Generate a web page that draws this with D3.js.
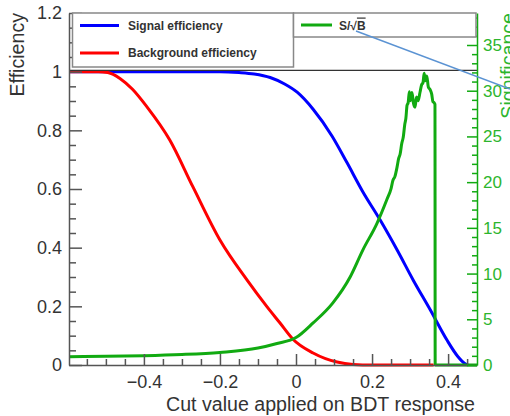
<!DOCTYPE html>
<html>
<head>
<meta charset="utf-8">
<script src="https://cdn.jsdelivr.net/npm/d3@7"></script>
<style>
  html, body { margin: 0; padding: 0; background: #fff; }
  svg { display: block; font-family: "Liberation Sans", Arial, sans-serif; }
</style>
</head>
<body>
<svg id="chart" width="510" height="416"></svg>
<script>
// Cut value on BDT response (x) and efficiencies / significance
const signalEff = [
  [-0.597, 1], [-0.2, 1], [-0.15, 0.997], [-0.11, 0.992], [-0.068, 0.98],
  [-0.03, 0.958], [0.003, 0.93], [0.045, 0.872], [0.095, 0.78], [0.134, 0.69],
  [0.176, 0.59], [0.221, 0.495], [0.266, 0.392], [0.308, 0.29], [0.353, 0.188],
  [0.397, 0.085], [0.425, 0.03], [0.445, 0.004], [0.452, 0]
];
const backgroundEff = [
  [-0.597, 1], [-0.52, 1], [-0.495, 0.997], [-0.463, 0.977], [-0.43, 0.94],
  [-0.392, 0.88], [-0.332, 0.767], [-0.271, 0.607], [-0.2, 0.426], [-0.129, 0.29],
  [-0.076, 0.198], [-0.042, 0.143], [-0.008, 0.088], [0.045, 0.041], [0.108, 0.01],
  [0.15, 0.002], [0.2, 0], [0.362, 0]
];
const significance = [
  [-0.597, 0.9], [-0.5, 0.95], [-0.4, 1.02], [-0.3, 1.15], [-0.2, 1.38],
  [-0.1, 1.85], [-0.05, 2.35], [0, 3.0], [0.045, 4.6], [0.097, 6.8],
  [0.142, 9.6], [0.176, 12.6], [0.213, 15.5], [0.239, 18.1], [0.25, 19.3],
  [0.255, 20.2], [0.26, 20.6], [0.266, 21.7], [0.27, 22.6], [0.274, 23.1],
  [0.278, 24.2], [0.282, 24.9], [0.286, 26.3], [0.289, 27.0], [0.292, 28.4],
  [0.295, 28.7], [0.298, 29.9], [0.301, 28.9], [0.305, 29.8], [0.309, 28.6],
  [0.313, 28.2], [0.317, 29.3], [0.321, 28.9], [0.326, 29.8], [0.33, 30.6],
  [0.334, 30.9], [0.337, 31.9], [0.34, 31.1], [0.344, 31.6], [0.348, 30.4],
  [0.353, 30.1], [0.357, 29.6], [0.36, 28.8], [0.363, 28.7], [0.3655, 28.5],
  [0.366, 0], [0.476, 0]
];

const xMajorTicks = [-0.4, -0.2, 0, 0.2, 0.4];
const effMajorTicks = [0, 0.2, 0.4, 0.6, 0.8, 1, 1.2];
const sigMajorTicks = [0, 5, 10, 15, 20, 25, 30, 35];

const legendLabels = ["Signal efficiency", "Background efficiency"];
const xTitle = "Cut value applied on BDT response";
const yTitle = "Efficiency";
const y2Title = "Significance";

const blue = "#0000ff", red = "#ff0000", green = "#11aa11", axisGrey = "#555", textGrey = "#333";

const svg = d3.select("#chart");
const pL = 69, pR = 477, pT = 13, pB = 365;

const x = d3.scaleLinear().domain([-0.597, 0.476]).range([pL, pR]);
const y = d3.scaleLinear().domain([0, 1.2]).range([pB, pT]);
const y2 = d3.scaleLinear().domain([0, 38.5]).range([pB, pT]);

const stepRange = (a, b, s) => d3.range(Math.round(a / s), Math.round(b / s) + 1).map(i => +(i * s).toFixed(4));
const xMinor = stepRange(-0.55, 0.45, 0.05).filter(v => !xMajorTicks.some(m => Math.abs(m - v) < 1e-6));
const effMinor = stepRange(0, 1.2, 0.05).filter(v => !effMajorTicks.some(m => Math.abs(m - v) < 1e-6));
const sigMinor = stepRange(0, 38, 1).filter(v => v % 5 !== 0);

svg.append("defs").append("clipPath").attr("id", "plot")
  .append("rect").attr("x", pL).attr("y", pT).attr("width", pR - pL).attr("height", pB - pT + 2);

// curves
const lineX = d3.line().curve(d3.curveMonotoneX).x(d => x(d[0])).y(d => y(d[1]));
const lineSig = d3.line().curve(d3.curveMonotoneX).x(d => x(d[0])).y(d => y2(d[1]));
const curves = svg.append("g").attr("clip-path", "url(#plot)");
curves.append("path").datum(signalEff).attr("d", lineX)
  .attr("fill", "none").attr("stroke", blue).attr("stroke-width", 3);
curves.append("path").datum(backgroundEff).attr("d", lineX)
  .attr("fill", "none").attr("stroke", red).attr("stroke-width", 3);
curves.append("path").datum(significance).attr("d", lineSig)
  .attr("fill", "none").attr("stroke", green).attr("stroke-width", 3).attr("stroke-linejoin", "round");

// reference line at efficiency 1
svg.append("line").attr("x1", pL).attr("x2", pR)
  .attr("y1", y(1) - 1.2).attr("y2", y(1) - 1.2)
  .attr("stroke", "#333").attr("stroke-width", 1.3);

// axes
function styleAxis(g, color, fontSize) {
  g.selectAll("path.domain").attr("stroke", color).attr("stroke-width", 1.5);
  g.selectAll(".tick line").attr("stroke", color).attr("stroke-width", 1.5);
  g.selectAll("text").attr("fill", color === green ? "#2db52d" : textGrey)
    .attr("font-size", fontSize).attr("font-family", "Liberation Sans, Arial, sans-serif");
}

const gx = svg.append("g").attr("transform", `translate(0,${pB})`)
  .call(d3.axisBottom(x).tickValues(xMajorTicks).tickSizeInner(-11).tickSizeOuter(0).tickPadding(10)
    .tickFormat(d => d === 0 ? "0" : d3.format(".1f")(d).replace("-", "\u2212")));
styleAxis(gx, axisGrey, 18);
const gxm = svg.append("g").attr("transform", `translate(0,${pB})`)
  .call(d3.axisBottom(x).tickValues(xMinor).tickSizeInner(-6).tickSizeOuter(0).tickFormat(""));
gxm.select("path.domain").remove();
styleAxis(gxm, axisGrey, 18);

const gy = svg.append("g").attr("transform", `translate(${pL},0)`)
  .call(d3.axisLeft(y).tickValues(effMajorTicks).tickSizeInner(-13).tickSizeOuter(0).tickPadding(7)
    .tickFormat(d => d === 0 || d === 1 ? String(d) : d3.format(".1f")(d)));
styleAxis(gy, axisGrey, 18);
const gym = svg.append("g").attr("transform", `translate(${pL},0)`)
  .call(d3.axisLeft(y).tickValues(effMinor).tickSizeInner(-7).tickSizeOuter(0).tickFormat(""));
gym.select("path.domain").remove();
styleAxis(gym, axisGrey, 18);

const gy2 = svg.append("g").attr("transform", `translate(${pR},0)`)
  .call(d3.axisRight(y2).tickValues(sigMajorTicks).tickSizeInner(-10).tickSizeOuter(0).tickPadding(6));
styleAxis(gy2, green, 17);
const gy2m = svg.append("g").attr("transform", `translate(${pR},0)`)
  .call(d3.axisRight(y2).tickValues(sigMinor).tickSizeInner(-5).tickSizeOuter(0).tickFormat(""));
gy2m.select("path.domain").remove();
styleAxis(gy2m, green, 17);

// axis titles
svg.append("text").attr("transform", `translate(${pR - 2},${411})`)
  .attr("text-anchor", "end").attr("font-size", 19.6).attr("fill", textGrey).text(xTitle);
svg.append("text").attr("transform", `translate(24,${pT})rotate(-90)`)
  .attr("text-anchor", "end").attr("font-size", 19.6).attr("fill", textGrey).text(yTitle);
svg.append("text").attr("transform", `translate(515,${pT})rotate(-90)`)
  .attr("text-anchor", "end").attr("font-size", 19.6).attr("fill", "#2db52d").text(y2Title);

// legend boxes
const leg = svg.append("g");
leg.append("rect").attr("x", 72.5).attr("y", 13).attr("width", 221).attr("height", 54)
  .attr("fill", "#fff").attr("stroke", "#888").attr("stroke-width", 1.5);
leg.append("rect").attr("x", 293.5).attr("y", 13).attr("width", 182.5).attr("height", 24)
  .attr("fill", "#fff").attr("stroke", "#888").attr("stroke-width", 1.5);

[[blue, legendLabels[0], 25.5], [red, legendLabels[1], 53]].forEach(([c, t, yy]) => {
  leg.append("line").attr("x1", 80).attr("x2", 119).attr("y1", yy).attr("y2", yy)
    .attr("stroke", c).attr("stroke-width", 3);
  leg.append("text").attr("x", 128).attr("y", yy + 4.2).attr("font-size", 12)
    .attr("font-weight", "bold").attr("fill", textGrey).text(t);
});
leg.append("line").attr("x1", 301).attr("x2", 332).attr("y1", 25).attr("y2", 25)
  .attr("stroke", green).attr("stroke-width", 3);
const sTxt = leg.append("text").attr("x", 339).attr("y", 29.5).attr("font-size", 12)
  .attr("font-weight", "bold").attr("fill", textGrey);
sTxt.append("tspan").text("S/\u221A");
sTxt.append("tspan").attr("text-decoration", "overline").text("B");

// pointer line
svg.append("line").attr("x1", 356).attr("y1", 31).attr("x2", 510).attr("y2", 89)
  .attr("stroke", "#5b93d3").attr("stroke-width", 1.5);
</script>
</body>
</html>
